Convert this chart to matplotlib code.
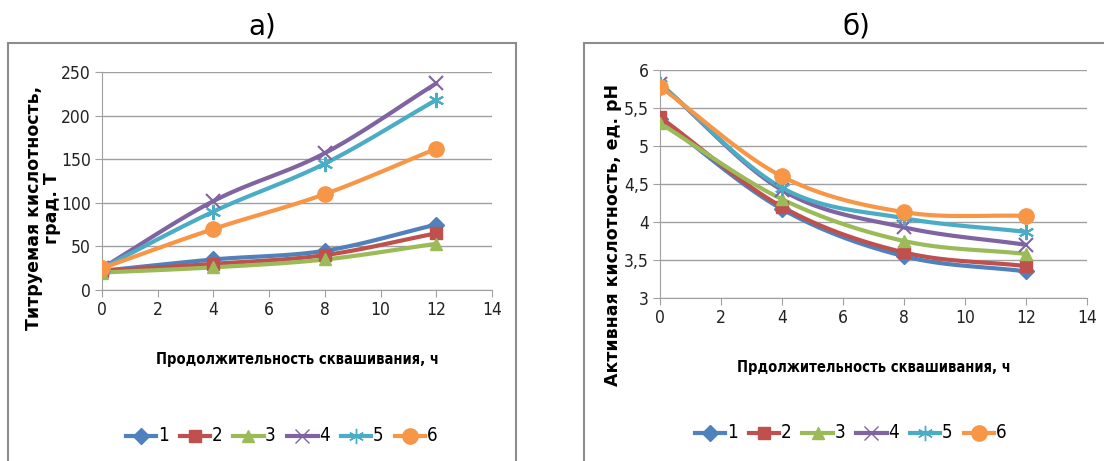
import numpy as np
import matplotlib
matplotlib.use("Agg")
import matplotlib.pyplot as plt
from matplotlib.patches import Rectangle
from matplotlib import font_manager

hours = [0, 4, 8, 12]
series_names = ["1", "2", "3", "4", "5", "6"]

# а) титруемая кислотность, °Т
tit_1 = [22, 35, 45, 75]
tit_2 = [22, 30, 40, 65]
tit_3 = [20, 26, 35, 53]
tit_4 = [25, 102, 157, 237]
tit_5 = [25, 90, 145, 218]
tit_6 = [25, 70, 110, 162]

# б) активная кислотность, pH
ph_1 = [5.35, 4.17, 3.55, 3.35]
ph_2 = [5.38, 4.20, 3.60, 3.42]
ph_3 = [5.30, 4.30, 3.75, 3.58]
ph_4 = [5.82, 4.42, 3.93, 3.70]
ph_5 = [5.82, 4.45, 4.05, 3.87]
ph_6 = [5.78, 4.60, 4.13, 4.08]

colors = ["#4F81BD", "#C0504D", "#9BBB59", "#8064A2", "#4BACC6", "#F79646"]
markers = ["D", "s", "^", "x", (6, 2, 0), "o"]
msizes = [8, 9, 9, 10, 11, 11]


def find_narrow(bold=False):
    # look for a condensed face; fall back to DejaVu Sans
    cands = []
    for f in font_manager.fontManager.ttflist:
        fn = f.fname.lower()
        nm = f.name.lower()
        cond = ("narrow" in nm or "condensed" in nm or "narrow" in fn
                or "condensed" in fn or str(f.stretch) in ("condensed", "semi-condensed"))
        if not cond or "oblique" in fn or "italic" in fn:
            continue
        isbold = "bold" in fn or str(f.weight) in ("bold", "700")
        if isbold != bold:
            continue
        score = 0 if "liberation" in fn else (1 if "dejavu" in fn else 2)
        cands.append((score, f.fname))
    if cands:
        cands.sort()
        return font_manager.FontProperties(fname=cands[0][1])
    return font_manager.FontProperties(family="DejaVu Sans",
                                       weight="bold" if bold else "normal")


fp_tick = find_narrow(False)
fp_xlab = find_narrow(True)


def smooth(x, y, n=30):
    # Excel-style smoothed line (Catmull-Rom between points)
    x = np.asarray(x, float)
    y = np.asarray(y, float)
    px = np.concatenate([[2 * x[0] - x[1]], x, [2 * x[-1] - x[-2]]])
    py = np.concatenate([[2 * y[0] - y[1]], y, [2 * y[-1] - y[-2]]])
    xs, ys = [], []
    t = np.linspace(0, 1, n)
    for i in range(1, len(px) - 2):
        for p, out in ((px, xs), (py, ys)):
            p0, p1, p2, p3 = p[i - 1], p[i], p[i + 1], p[i + 2]
            out.extend(0.5 * (2 * p1 + (-p0 + p2) * t
                              + (2 * p0 - 5 * p1 + 4 * p2 - p3) * t ** 2
                              + (-p0 + 3 * p1 - 3 * p2 + p3) * t ** 3))
    return xs, ys


def draw(ax, data, ylim, yticks, yfmt, xlabel, ylabel, ylab_pos, ylab_size,
         xlab_y, leg_pos):
    handles = []
    for vals, c, m, ms, name in zip(data, colors, markers, msizes, series_names):
        sx, sy = smooth(hours, vals)
        ax.plot(sx, sy, color=c, lw=3, solid_capstyle="round", zorder=3)
        ax.plot(hours, vals, ls="none", marker=m, ms=ms, color=c,
                mec=c, mew=1.5 if m in ("x", (6, 2, 0)) else 1, zorder=4)
        h, = ax.plot([], [], color=c, lw=3, marker=m, ms=ms, mec=c, label=name)
        handles.append(h)
    ax.set_xlim(0, 14)
    ax.set_ylim(*ylim)
    ax.set_xticks(range(0, 15, 2))
    ax.set_yticks(yticks)
    ax.set_yticklabels([yfmt(v) for v in yticks])
    ax.grid(axis="y", color="#a0a0a0", lw=1)
    ax.set_axisbelow(True)
    for s in ("top", "right"):
        ax.spines[s].set_visible(False)
    for s in ("left", "bottom"):
        ax.spines[s].set_color("#a0a0a0")
    ax.tick_params(axis="both", colors="#a0a0a0", length=5, pad=3,
                   labelcolor="#222222")
    for lab in ax.get_xticklabels() + ax.get_yticklabels():
        lab.set_fontproperties(fp_tick)
        lab.set_fontsize(12.5)
    xfp = fp_xlab.copy()
    xfp.set_size(10.5)
    ax.set_xlabel(xlabel, fontproperties=xfp)
    ax.xaxis.set_label_coords(0.5, xlab_y)
    ax.set_ylabel(ylabel, fontsize=ylab_size, fontweight="bold", linespacing=1.0)
    ax.yaxis.set_label_coords(*ylab_pos)
    ax.legend(handles=handles, loc="center", bbox_to_anchor=leg_pos, ncol=6,
              frameon=False, handlelength=2.2, handletextpad=0.1,
              columnspacing=0.8, prop=fp_tick.copy())
    for t in ax.get_legend().get_texts():
        t.set_fontsize(13.5)


fig = plt.figure(figsize=(11.04, 4.61), dpi=100)

fig.patches.append(Rectangle((8 / 1104, -0.01), (516 - 8) / 1104, 1 - 43 / 461 + 0.01,
                             transform=fig.transFigure, fill=False,
                             ec="#8c8c8c", lw=1.5))
fig.patches.append(Rectangle((584 / 1104, -0.01), 0.5, 1 - 43 / 461 + 0.01,
                             transform=fig.transFigure, fill=False,
                             ec="#8c8c8c", lw=1.5))

ax1 = fig.add_axes([102 / 1104, 1 - 290 / 461, 390 / 1104, 218 / 461])
ax2 = fig.add_axes([660 / 1104, 1 - 298 / 461, 427 / 1104, 228 / 461])

draw(ax1, [tit_1, tit_2, tit_3, tit_4, tit_5, tit_6], (0, 250),
     range(0, 251, 50), lambda v: f"{v}",
     "Продолжительность сквашивания, ч",
     "Титруемая кислотность,\nград. Т", (-0.105, (290 - 208) / 218), 12.5,
     -(352 - 290) / 218, (0.46, -(435 - 290) / 218))
draw(ax2, [ph_1, ph_2, ph_3, ph_4, ph_5, ph_6], (3, 6),
     np.arange(3, 6.01, 0.5), lambda v: f"{v:g}".replace(".", ","),
     "Прдолжительность сквашивания, ч",
     "Активная кислотность, ед. pH", (-0.089, (298 - 235) / 228), 12.5,
     -(360 - 298) / 228, (0.446, -(432 - 298) / 228))

fig.text(262 / 1104, 1 - 27 / 461, "а)", fontsize=20, ha="center", va="center")
fig.text(856 / 1104, 1 - 27 / 461, "б)", fontsize=20, ha="center", va="center")

fig.savefig("out.png", dpi=100)
